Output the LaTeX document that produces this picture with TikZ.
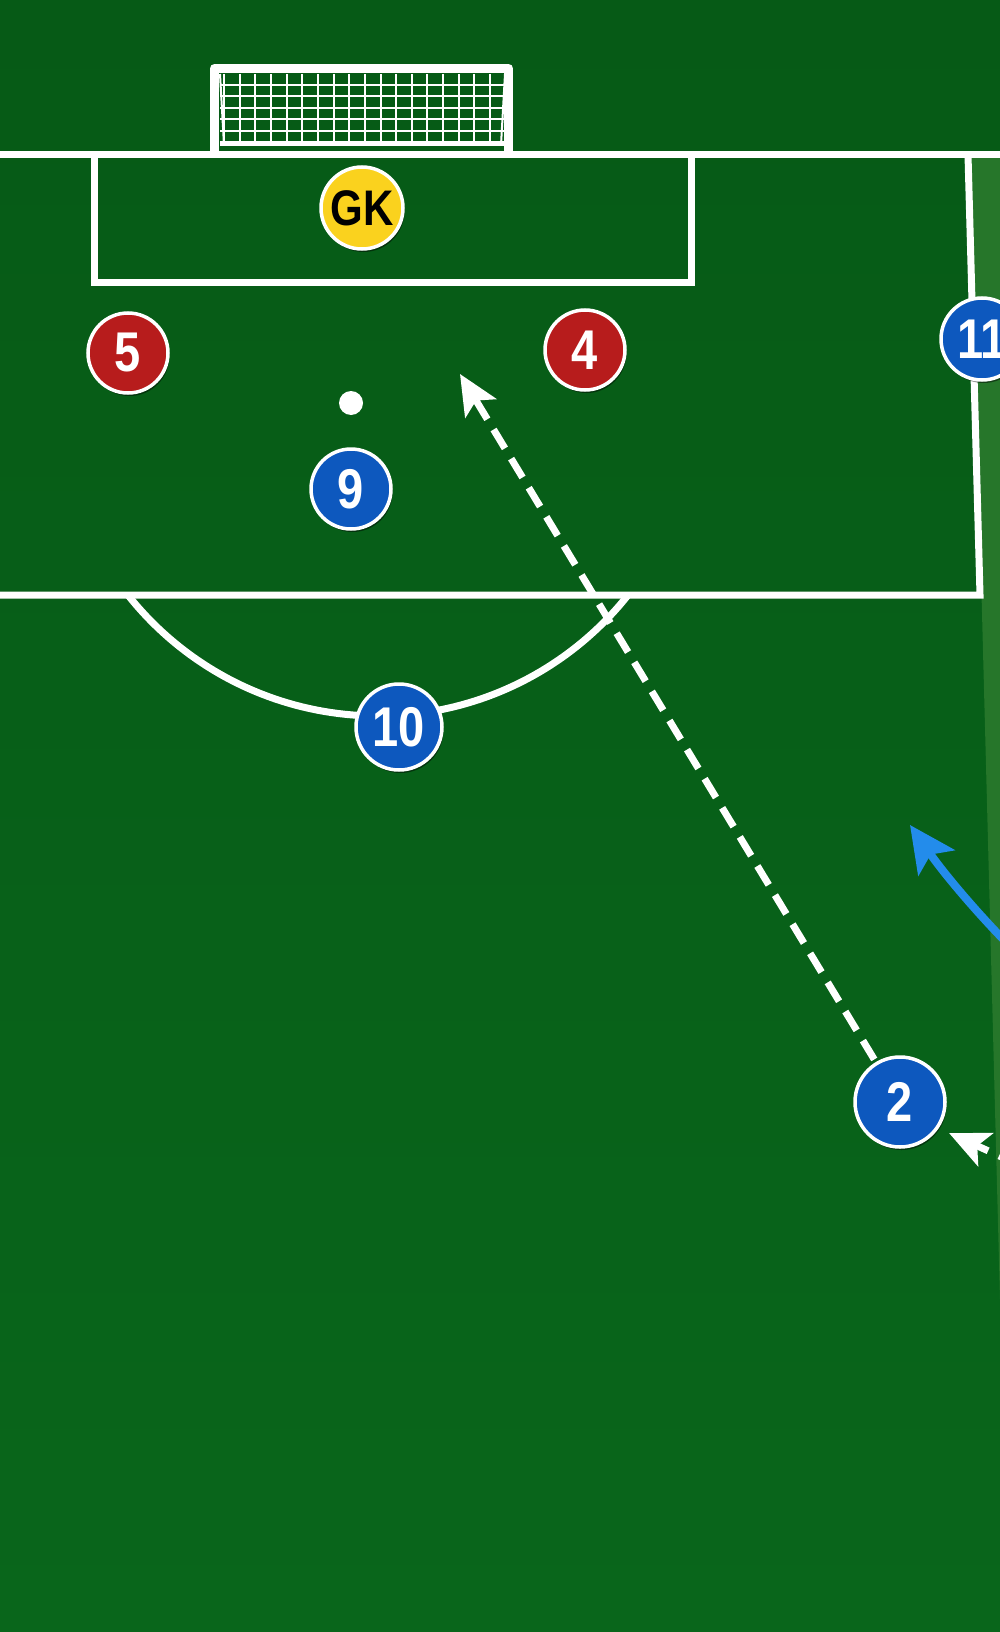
\documentclass[tikz,border=0pt]{standalone}
\usepackage{fontspec}
\usepackage{tikz}
\usetikzlibrary{arrows.meta,shadows,positioning}
\newfontfamily\numfont[FakeStretch=0.84]{Liberation Sans}
\definecolor{pitch}{RGB}{9,102,27}
\definecolor{pitchdark}{RGB}{6,90,22}
\definecolor{wing}{RGB}{38,118,42}
\definecolor{team}{RGB}{13,88,190}
\definecolor{rival}{RGB}{183,28,28}
\definecolor{keeper}{RGB}{250,210,30}
\definecolor{runblue}{RGB}{35,140,235}
\tikzset{player/.style={circle,draw=white,line width=3.5pt,minimum size=80pt,inner sep=0pt,text=white,
            font=\numfont\bfseries\fontsize{56}{56}\selectfont,
            drop shadow={shadow xshift=1.5pt,shadow yshift=-3pt,opacity=0.45,fill=black}},
         blue node/.style={player,fill=team},
         red node/.style={player,fill=rival},
         gk node/.style={player,fill=keeper,text=black,font=\numfont\bfseries\fontsize{50}{50}\selectfont},
         pitch line/.style={draw=white,line width=7pt},
         net line/.style={draw=white,line width=2pt},
         pass line/.style={draw=white,line width=7pt,dash pattern=on 22pt off 12pt,
            -{Stealth[length=40pt,width=36pt,inset=9pt]}},
         run line/.style={draw=runblue,line width=8pt,-{Stealth[length=46pt,width=44pt,inset=10pt]}}
}
\begin{document}
\begin{tikzpicture}[x=1pt,y=-1pt]
\useasboundingbox (0,0) rectangle (1000,1632);
\clip (0,0) rectangle (1000,1632);
\fill[top color=pitchdark,bottom color=pitch] (0,0) rectangle (1000,1632);
\fill[wing] (970,155) -- (1000,155) -- (1000,1300) -- cycle;
\foreach \i in {0,...,17}
    \draw[net line] ({224+15.65*\i},74) -- ++(0,70);
\foreach \j in {0,...,5}
    \draw[net line] (220,{85+11.5*\j}) -- (504,{85+11.5*\j});
\draw[net line] (220,74) -- (224,145) (505,74) -- (501,145);
\draw[net line,line width=4pt] (220,144) -- (504,144);
\draw[pitch line,line width=9pt,line join=round] (214.5,155) -- (214.5,68.5) -- (508.5,68.5) -- (508.5,155);
\draw[pitch line] (0,155) -- (1000,155);
\draw[pitch line] (94,155) -- (94,282) -- (691,282) -- (691,155);
\draw[pitch line,line join=miter] (968,155) -- (980,595) -- (0,595);
\draw[pitch line] plot[domain=38.4:141.6,samples=80] ({378+319*cos(\x)},{397+319*sin(\x)});
\fill[white] (351,403) circle[radius=12];
\coordinate (pass end) at (460,374);
\coordinate (cross start) at (1050,1179);
\coordinate (cross end) at (949,1133);
\coordinate (run start) at (1050,985);
\coordinate (run end) at (910,825);
\node[gk node,minimum size=82pt] (gk) at (362,208) {GK};
\node[red node] (5) at (128,353) {5};
\node[red node] (4) at (585,350) {4};
\node[blue node,minimum size=82pt] (11) at (982,339) {11};
\node[blue node] (9) at (351,489) {9};
\node[blue node,minimum size=86pt] (10) at (399,727) {10};
\node[blue node,minimum size=90pt] (2) at (900,1102) {2};
\draw[pass line,shorten <=3pt] (2) -- (pass end);
\draw[pass line] (cross start) -- (cross end);
\draw[run line] (run start) .. controls (990,930) and (945,875) .. (run end);
\end{tikzpicture}
\end{document}
